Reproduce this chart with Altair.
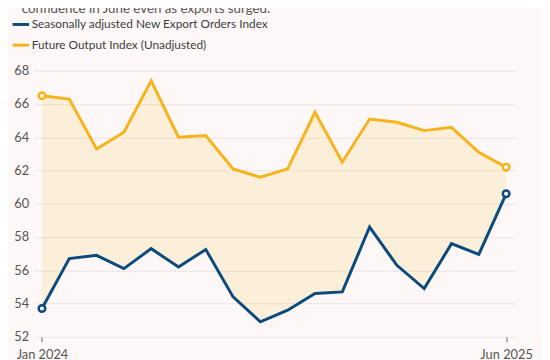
import altair as alt
import pandas as pd

months = ["Jan 2024", "Feb 2024", "Mar 2024", "Apr 2024", "May 2024", "Jun 2024",
          "Jul 2024", "Aug 2024", "Sep 2024", "Oct 2024", "Nov 2024", "Dec 2024",
          "Jan 2025", "Feb 2025", "Mar 2025", "Apr 2025", "May 2025", "Jun 2025"]
export_orders = [53.7, 56.7, 56.9, 56.1, 57.3, 56.2, 57.25, 54.4, 52.9, 53.6, 54.6, 54.7,
                 58.6, 56.3, 54.9, 57.6, 56.95, 60.6]
future_output = [66.5, 66.3, 63.3, 64.3, 67.4, 64.0, 64.1, 62.1, 61.6, 62.1, 65.5, 62.5,
                 65.1, 64.9, 64.4, 64.6, 63.1, 62.2]
series_names = ["Seasonally adjusted New Export Orders Index", "Future Output Index (Unadjusted)"]
series_colors = ["#0b4a7c", "#f8b21b"]
y_ticks = [52, 54, 56, 58, 60, 62, 64, 66, 68]
subtitle = "confidence in June even as exports surged."

BG = "#fdf8f7"
FONT = "Lato"

wide = pd.DataFrame({
    "idx": list(range(len(months))),
    "month": months,
    series_names[0]: export_orders,
    series_names[1]: future_output,
})

x_axis = alt.Axis(
    values=[0, len(months) - 1],
    labelExpr="[" + ",".join("'" + m + "'" for m in months) + "][datum.value]",
    title=None, grid=False, domain=False, ticks=True, tickSize=5,
    tickColor="#666666", labelPadding=7, labelOverlap=False, labelFlush=False,
)
y_axis = alt.Axis(values=y_ticks, title=None, grid=True, gridColor="#ebe4e4",
                  domain=False, ticks=False, labelPadding=6,
                  labelOverlap=False, labelFlush=False)
x_scale = alt.Scale(domain=[-0.27, 17.34], nice=False, zero=False)
y_scale = alt.Scale(domain=[52, 68], nice=False, zero=False)

base = alt.Chart(wide)

area = base.mark_area(color=series_colors[1], opacity=0.13).encode(
    x=alt.X("idx:Q", scale=x_scale, axis=x_axis),
    y=alt.Y(f"{series_names[1]}:Q", scale=y_scale, axis=y_axis),
    y2=alt.Y2(f"{series_names[0]}:Q"),
)

color_scale = alt.Scale(domain=series_names, range=series_colors)

lines = base.transform_fold(series_names, as_=["series", "value"]).mark_line(
    strokeWidth=3, strokeJoin="miter"
).encode(
    x=alt.X("idx:Q", scale=x_scale, axis=x_axis),
    y=alt.Y("value:Q", scale=y_scale, axis=y_axis),
    color=alt.Color(
        "series:N", scale=color_scale, sort=series_names,
        legend=alt.Legend(
            title=None, orient="none", legendX=-24, legendY=-57,
            symbolType="stroke", symbolStrokeWidth=3, symbolSize=280,
            labelFontSize=12, labelColor="#3c3c3c", labelFont=FONT,
            rowPadding=5, labelOffset=1, labelLimit=400,
        ),
    ),
)

ends = base.transform_filter(
    (alt.datum.idx == 0) | (alt.datum.idx == len(months) - 1)
).transform_fold(series_names, as_=["series", "value"]).mark_point(
    shape="circle", size=45, strokeWidth=2.5, fill=BG, fillOpacity=1, opacity=1
).encode(
    x=alt.X("idx:Q", scale=x_scale, axis=x_axis),
    y=alt.Y("value:Q", scale=y_scale, axis=y_axis),
    stroke=alt.Stroke("series:N", scale=color_scale, legend=None),
)

sub = alt.Chart(pd.DataFrame({"t": [subtitle]})).mark_text(
    align="left", baseline="alphabetic", fontSize=13.5, font=FONT, color="#555555"
).encode(x=alt.value(-13), y=alt.value(-59), text="t:N")

chart = alt.layer(area, lines, ends, sub).properties(
    width=488, height=270,
    autosize=alt.AutoSizeParams(type="none"),
    padding={"left": 27, "top": 61, "right": 27, "bottom": 30},
    background=BG,
).configure_view(stroke=None).configure_axis(
    labelFont=FONT, labelFontSize=13, labelColor="#555555",
    labelOverlap=False,
).configure_axisY(labelOverlap=False, labelFlush=False)

chart.save("out.html", embed_options={"renderer": "svg", "actions": False})
